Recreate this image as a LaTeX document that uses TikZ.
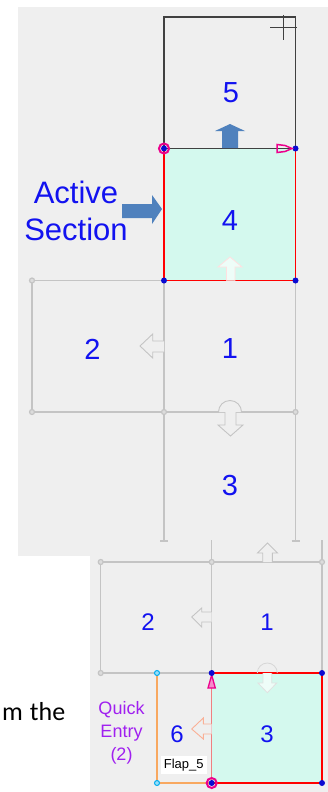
\documentclass[tikz,border=0pt]{standalone}
\usepackage{fontspec}
\setmainfont{Liberation Sans}
\newfontfamily\bodyfont{Carlito}
\usepackage{tikz}

\definecolor{panelgray}{RGB}{239,239,239}
\definecolor{gridgray}{RGB}{196,196,196}
\definecolor{numblue}{RGB}{18,18,240}
\definecolor{dotblue}{RGB}{10,10,210}
\definecolor{activefill}{RGB}{212,249,238}
\definecolor{arrowblue}{RGB}{79,129,189}
\definecolor{flaporange}{RGB}{248,168,96}
\definecolor{quickviolet}{RGB}{160,32,240}
\definecolor{edgesalmon}{RGB}{240,128,128}
\definecolor{arrowsalmon}{RGB}{250,176,150}
\definecolor{framegray}{RGB}{64,64,64}

\begin{document}
\begin{tikzpicture}[x=1pt, y=-1pt, line join=miter,
  num/.style={text=numblue, font=\fontsize{29}{29}\selectfont},
  numsmall/.style={text=numblue, font=\fontsize{24}{24}\selectfont},
  grid/.style={draw=gridgray, line width=1.3pt},
  hollow/.style={draw=gridgray, fill=panelgray, line width=0.9pt},
  gdot/.style={circle, draw=gridgray, fill=gridgray!60, line width=1.2pt, inner sep=0pt, minimum size=5pt},
  bdot/.style={circle, fill=dotblue, inner sep=0pt, minimum size=6pt},
  cdot/.style={circle, draw=cyan, fill=cyan!40, line width=1pt, inner sep=0pt, minimum size=5pt},
  mring/.style={circle, draw=magenta, line width=2pt, inner sep=0pt, minimum size=10pt}]

\useasboundingbox (0,0) rectangle (328,792);
\fill[white] (0,0) rectangle (328,792);
\fill[panelgray] (18,7) rectangle (328,556);
\fill[panelgray] (90,556) rectangle (328,792);

% upper view
\fill[activefill] (164,148.5) rectangle (295.5,280.5);
\draw[grid] (32,280.5) rectangle (295.5,412);
\draw[grid] (164,280.5) -- (164,541) (160,541) -- (168,541);
\draw[grid] (295.5,280.5) -- (295.5,541) (291.5,541) -- (299.5,541);
\draw[red, line width=1.2pt] (164,148.5) -- (164,280.5) -- (295.5,280.5) -- (295.5,148.5);
\draw[framegray, line width=1.2pt] (164,148.5) rectangle (295.5,17);
\draw[framegray, line width=1pt] (270,28) -- (297,28) (283.5,15) -- (283.5,40);

\fill[arrowblue] (222,148) -- (222,131) -- (215,131) -- (230,124) -- (245,131) -- (238,131) -- (238,148) -- cycle;
\fill[arrowblue] (122,204) -- (152,204) -- (152,195) -- (162,209) -- (152,224) -- (152,218) -- (122,218) -- cycle;
\draw[draw=red!12, fill=white!60!activefill, line width=0.8pt] (226.5,280.5) -- (226.5,267) -- (218,267) -- (230,257) -- (242,267) -- (235,267) -- (235,280.5);
\draw[hollow] (164,341) -- (152.7,341) -- (152.7,334) -- (140,346) -- (152.7,358) -- (152.7,352) -- (164,352);
\draw[hollow] (218.5,412) arc[start angle=180, end angle=360, radius=11.5];
\draw[hollow] (225,412) -- (225,425) -- (218,425) -- (230.5,436) -- (243,425) -- (236,425) -- (236,412);

\node[gdot] (g1) at (32,280.5) {};
\node[gdot] (g2) at (32,412) {};
\node[gdot] (g3) at (164,412) {};
\node[gdot] (g4) at (295.5,412) {};
\node[bdot] (b1) at (164,280.5) {};
\node[bdot] (b2) at (295.5,280.5) {};
\node[bdot] (b3) at (295.5,148.5) {};
\node[mring] (r1) at (164,148.5) {};
\node[bdot] (b4) at (164,148.5) {};
\draw[magenta, line width=1.5pt] (277,144.5) -- (285,145.5) -- (292,148.5) -- (285,151.5) -- (277,152.5) -- cycle;

\node[num] (n5) at (231,92.5) {5};
\node[num] (n4) at (230,221) {4};
\node[num] (n2) at (92.5,349.5) {2};
\node[num] (n1) at (230,349) {1};
\node[num] (n3) at (230,486) {3};
\node[text=numblue, align=center, font=\fontsize{31}{37}\selectfont] (act) at (76,210.5) {Active\\Section};

% lower view
\fill[activefill] (211.7,673) rectangle (322,783);
\draw[grid] (100.7,562) rectangle (322,673);
\draw[grid] (211.7,540) -- (211.7,673) (322,540) -- (322,562);
\draw[flaporange, line width=1.3pt] (157,673) -- (157,783) -- (211.7,783);
\draw[red, line width=1.2pt] (211.7,673) -- (322,673) -- (322,783) -- (211.7,783);
\draw[edgesalmon, line width=1.3pt] (211.7,673) -- (211.7,783);

\draw[hollow] (262.7,562) -- (262.7,553) -- (257.5,553) -- (267.5,543) -- (277.5,553) -- (272.3,553) -- (272.3,562);
\draw[hollow] (211.7,612) -- (201.7,612) -- (201.7,608) -- (191.7,617) -- (201.7,627) -- (201.7,622) -- (211.7,622);
\draw[draw=gridgray!70, line width=0.8pt] (257.3,673) arc[start angle=180, end angle=360, radius=10];
\draw[draw=gridgray!50, fill=white!60!activefill, line width=0.8pt] (263,673) -- (263,683) -- (258,683) -- (267.3,692.7) -- (276.7,683) -- (271.7,683) -- (271.7,673);
\draw[draw=arrowsalmon, fill=panelgray, line width=0.9pt] (211.7,724) -- (203.3,724) -- (203.3,718) -- (191.7,729) -- (203.3,739) -- (203.3,734) -- (211.7,734);
\draw[magenta, fill=magenta!45, line width=1.3pt] (211.7,675) -- (215.3,688) -- (208,688) -- cycle;

\node[gdot] (g5) at (100.7,562) {};
\node[gdot] (g6) at (211.7,562) {};
\node[gdot] (g7) at (322,562) {};
\node[gdot] (g8) at (100.7,673) {};
\node[cdot] (c1) at (157,673) {};
\node[cdot] (c2) at (157,783) {};
\node[bdot] (b5) at (211.7,673) {};
\node[bdot] (b6) at (322,673) {};
\node[bdot] (b7) at (322,783) {};
\node[mring] (r2) at (211.7,783) {};
\node[bdot] (b8) at (211.7,783) {};

\node[numsmall] (m2) at (148,622) {2};
\node[numsmall] (m1) at (267,622) {1};
\node[numsmall] (m6) at (177,734) {6};
\node[numsmall] (m3) at (267,734) {3};
\node[fill=white, inner sep=2pt, minimum width=46pt, minimum height=18pt, font=\fontsize{13}{13}\selectfont] (flap) at (183.7,765) {Flap\_5};
\node[text=quickviolet, align=center, font=\fontsize{18}{23}\selectfont] (quick) at (121.5,733) {Quick\\Entry\\(2)};

\node[anchor=base east, inner sep=0pt, font=\bodyfont\fontsize{26}{26}\selectfont] (body) at (65.5,720) {m\hspace{7pt}the};

\end{tikzpicture}
\end{document}
